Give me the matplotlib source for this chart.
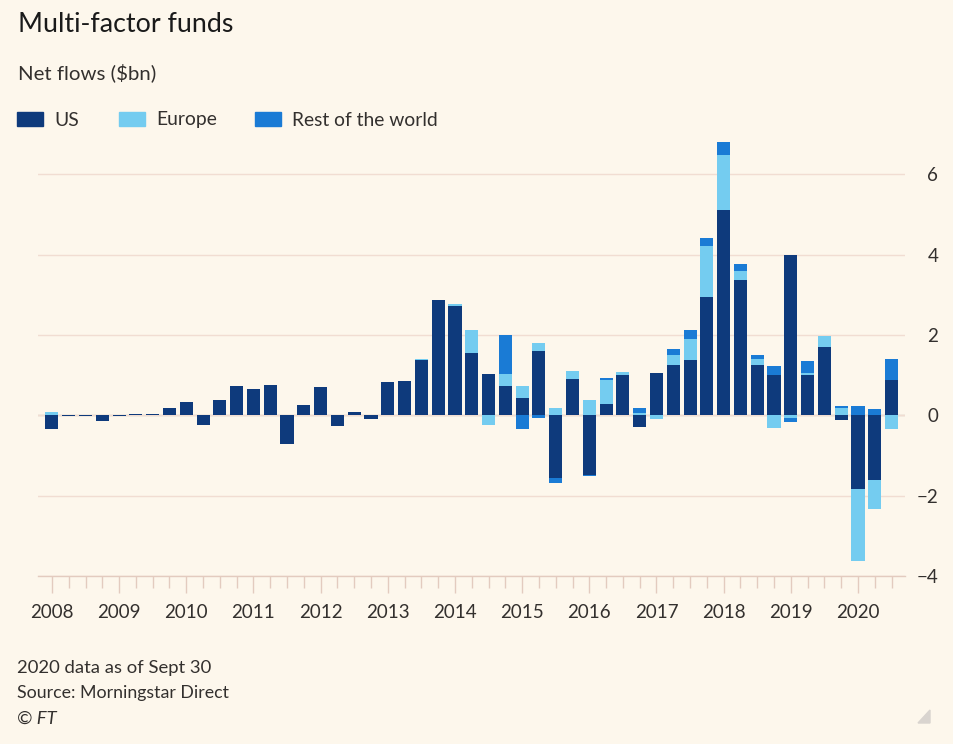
import numpy as np
import matplotlib
matplotlib.use("Agg")
import matplotlib.pyplot as plt
from matplotlib.patches import Rectangle, Polygon

# %% ---------------------------------
#           data (quarterly, $bn)
# ------------------------------------
years = list(range(2008, 2021))
series_names = ["US", "Europe", "Rest of the world"]

us = [-0.33, -0.02, -0.02, -0.15, -0.01, 0.02, 0.04, 0.19,
      0.32, -0.25, 0.37, 0.72, 0.66, 0.76, -0.71, 0.25,
      0.70, -0.26, 0.08, -0.09, 0.82, 0.85, 1.37, 2.88,
      2.73, 1.54, 1.02, 0.73, 0.42, 1.60, -1.56, 0.91,
      -1.48, 0.29, 1.00, -0.29, 1.04, 1.24, 1.37, 2.95,
      5.10, 3.37, 1.24, 1.00, 4.00, 1.00, 1.69, -0.12,
      -1.84, -1.60, 0.89]
europe = [0.08, 0, 0, 0, 0, 0, 0, 0,
          0, 0, 0, 0, 0, 0, 0, 0,
          0, 0, 0, 0, 0, 0, 0.03, 0,
          0.04, 0.58, -0.25, 0.29, 0.30, 0.21, 0.19, 0.19,
          0.37, 0.60, 0.08, 0.05, -0.09, 0.27, 0.54, 1.27,
          1.38, 0.22, 0.17, -0.31, -0.08, 0.06, 0.29, 0.17,
          -1.79, -0.74, -0.34]
rest_world = [0, 0, 0, 0, 0, 0, 0, 0,
              0, 0, 0, 0, 0, 0, 0, 0,
              0, 0, 0, 0, 0, 0, 0, 0,
              0, 0, 0, 0.98, -0.33, -0.07, -0.12, 0,
              -0.02, 0.03, 0, 0.12, 0, 0.14, 0.21, 0.18,
              0.32, 0.17, 0.10, 0.23, -0.09, 0.29, 0, 0.07,
              0.24, 0.15, 0.51]

yticks = [-4, -2, 0, 2, 4, 6]

# %% ---------------------------------
#           style
# ------------------------------------
bg = "#fdf7ec"
colors = ["#0e3a7c", "#74ccf0", "#1a7bd5"]
grid_col = "#f1ddd2"
tick_col = "#e3cbbf"
text_col = "#33302e"
plt.rcParams["font.family"] = ["Lato", "DejaVu Sans"]

fig = plt.figure(figsize=(9.54, 7.44), dpi=100, facecolor=bg)
ax = fig.add_axes([38 / 954, 1 - 576 / 744, (905 - 38) / 954, (576 - 138) / 744])
ax.set_facecolor(bg)

x = np.arange(len(us))
data = np.array([us, europe, rest_world], dtype=float)
pos_base = np.zeros(len(us))
neg_base = np.zeros(len(us))
for vals, col in zip(data, colors):
    pos = np.where(vals > 0, vals, 0)
    neg = np.where(vals < 0, vals, 0)
    ax.bar(x, pos, bottom=pos_base, width=0.78, color=col, zorder=3, linewidth=0)
    ax.bar(x, neg, bottom=neg_base, width=0.78, color=col, zorder=3, linewidth=0)
    pos_base += pos
    neg_base += neg

ax.set_xlim(-0.83, 50.8)
ax.set_ylim(-4, 6.9)

# gridlines
ax.set_yticks(yticks)
ax.yaxis.grid(True, color=grid_col, linewidth=1.0, zorder=0)
ax.axhline(0, color="#cdc5bd", linewidth=1.0, zorder=1)

for s in ["top", "right", "left"]:
    ax.spines[s].set_visible(False)
ax.spines["bottom"].set_color(tick_col)
ax.spines["bottom"].set_linewidth(1.0)

# y labels right-aligned on the right
ax.yaxis.set_ticks_position("right")
ax.tick_params(axis="y", length=0, pad=24, labelsize=13.5, labelcolor=text_col)
for lab in ax.get_yticklabels():
    lab.set_horizontalalignment("right")

# x ticks: years major, quarters minor
year_pos = [4 * (y - years[0]) for y in years]
ax.set_xticks(year_pos)
ax.set_xticklabels([str(y) for y in years])
ax.set_xticks(x, minor=True)
ax.tick_params(axis="x", which="major", length=12.5, width=1, color=tick_col,
               labelsize=13.5, labelcolor=text_col, pad=8)
ax.tick_params(axis="x", which="minor", length=8.7, width=1, color=tick_col)

# %% ---------------------------------
#           titles, legend, footer
# ------------------------------------
fig.text(18 / 954, 1 - 24 / 744, "Multi-factor funds", fontsize=19.3,
         color="#1a1a1a", va="center", ha="left")
fig.text(18 / 954, 1 - 73 / 744, "Net flows ($bn)", fontsize=14.7,
         color=text_col, va="center", ha="left")

leg_x = [17, 119, 255]
for lx, name, col in zip(leg_x, series_names, colors):
    fig.patches.append(Rectangle((lx / 954, 1 - 126 / 744), 26 / 954, 14 / 744,
                                 transform=fig.transFigure, color=col))
    fig.text((lx + 37) / 954, 1 - 120 / 744, name, fontsize=13.9,
             color=text_col, va="center", ha="left")

fig.text(17 / 954, 1 - 668 / 744, "2020 data as of Sept 30", fontsize=13.3,
         color=text_col, va="center", ha="left")
fig.text(17 / 954, 1 - 693 / 744, "Source: Morningstar Direct", fontsize=12.8,
         color=text_col, va="center", ha="left")
fig.text(17 / 954, 1 - 719 / 744, "© FT", fontsize=13.3, style="italic",
         color=text_col, va="center", ha="left")

fig.patches.append(Polygon([[930 / 954, 1 - 723 / 744], [930 / 954, 1 - 710 / 744],
                            [918 / 954, 1 - 723 / 744]], closed=True,
                           transform=fig.transFigure, color="#d9d4cf"))

fig.savefig("out.png", dpi=100, facecolor=bg)
